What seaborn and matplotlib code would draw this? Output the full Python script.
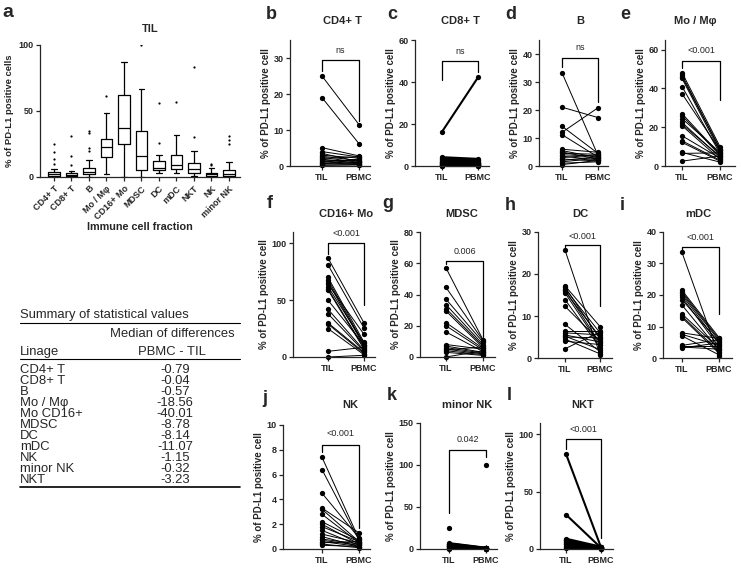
import numpy as np
import pandas as pd
import matplotlib
matplotlib.use("Agg")
import matplotlib.pyplot as plt
import seaborn as sns

W, H = 742, 569
nan = np.nan

# panel a: TIL values per immune cell fraction
cell_types = ["CD4+ T", "CD8+ T", "B", "Mo / Mφ", "CD16+ Mo", "MDSC", "DC", "mDC", "NKT", "NK", "minor NK"]
box_cd4 = [0.0, 0.3, 0.6, 0.8, 0.9, 1.0, 1.2, 1.4, 1.6, 1.8, 1.9, 2.1, 2.3, 2.5, 2.7, 2.9, 3.1, 4.0, 6.0, 10, 14, 19, 25]
box_cd8 = [0.0, 0.2, 0.4, 0.6, 0.8, 1.0, 1.1, 1.2, 1.3, 1.4, 1.5, 1.6, 1.8, 2.0, 2.4, 2.8, 3.2, 4.5, 9, 16, 31]
box_b = [0.0, 0.5, 0.8, 1.0, 1.3, 1.6, 1.9, 2.1, 2.5, 3.0, 3.4, 3.8, 4.0, 4.3, 4.8, 5.3, 5.8, 6.2, 6.5, 7.0, 9.0, 13.0, 20, 22, 33, 35]
box_mo = [2.5, 6, 9, 12, 14, 15, 16, 18, 20, 21, 22, 23, 24, 26, 27, 28, 29, 30, 35, 42, 48.5, 61]
box_cd16 = [0, 5, 12, 20, 24, 25, 27, 30, 33, 36, 39, 42, 48, 55, 62, 64, 66, 72, 80, 87]
box_mdsc = [0, 1.5, 3, 4, 5, 5.5, 7, 9, 12, 14, 16, 18, 22, 27, 32, 35, 38, 45, 55, 67, 100]
box_dc = [3, 3.8, 4.3, 4.7, 5, 5.2, 5.6, 6, 6.3, 6.5, 6.8, 7.5, 9, 10.5, 12, 12.8, 14, 17, 26, 56]
box_mdc = [3, 4, 4.8, 5.2, 5.5, 5.8, 6.5, 7.2, 8, 8.5, 9, 10, 12, 14, 16, 17.5, 21, 26, 32, 57]
box_nkt = [1, 1.5, 2, 2.5, 2.8, 3.2, 3.8, 4.5, 5.2, 5.8, 6.2, 7, 8, 9, 10, 10.8, 13, 16, 20, 30, 83]
box_nk = [0, 0.3, 0.6, 0.8, 1.0, 1.1, 1.3, 1.5, 1.7, 1.9, 2.1, 2.3, 2.6, 2.9, 3.2, 3.5, 4.5, 6.5, 9, 10]
box_minor_nk = [0, 0.2, 0.4, 0.6, 0.8, 0.9, 1.0, 1.2, 1.4, 1.6, 1.8, 1.9, 2.1, 2.4, 2.9, 3.5, 4.2, 4.8, 5.3, 7, 9, 11, 25, 28, 31]
box_values = [box_cd4, box_cd8, box_b, box_mo, box_cd16, box_mdsc, box_dc, box_mdc, box_nkt, box_nk, box_minor_nk]

# panels b-l: paired TIL / PBMC values
til_cd4 = [25.0, 19.0, 5.1, 4.0, 3.5, 3.0, 2.7, 2.4, 2.1, 1.9, 1.6, 1.3, 1.1, 0.9, 0.7, 0.5, 0.3, 0.2]
pbmc_cd4 = [11.5, 6.2, 2.8, 2.5, 1.2, 2.2, 1.5, 1.0, 2.6, 0.8, 1.4, 0.6, 1.8, 0.5, 1.0, 2.0, 0.4, 0.3]
til_cd8 = [16.3, 4.2, 3.8, 3.3, 2.9, 2.5, 2.1, 1.8, 1.5, 1.2, 1.0, 0.8, 0.6, 0.4, 0.3, 0.2, 0.1]
pbmc_cd8 = [42.2, 3.4, 2.5, 2.0, 1.5, 1.2, 2.8, 1.0, 0.8, 1.6, 0.6, 0.5, 1.1, 0.4, 0.3, 0.2, 0.1]
til_b = [33.3, 21.0, 14.2, 12.0, 11.2, 6.0, 5.5, 5.0, 4.5, 4.0, 3.5, 3.0, 2.5, 2.0, 1.5, 1.0, 0.5]
pbmc_b = [3.8, 17.3, 4.5, 20.8, 3.2, 4.9, 3.0, 2.5, 4.2, 3.5, 2.2, 4.0, 1.8, 3.3, 2.8, 1.5, 2.0]
til_mo = [48.2, 47.0, 46.0, 45.2, 41.0, 37.3, 27.0, 26.0, 24.5, 22.5, 21.5, 20.8, 15.6, 13.0, 12.2, 7.0, 6.5, 2.5]
pbmc_mo = [10.0, 8.5, 9.0, 7.5, 6.5, 8.0, 6.0, 5.5, 7.0, 4.5, 5.0, 3.5, 4.0, 3.0, 2.5, 2.0, 6.8, 5.2]
til_cd16 = [87.0, 81.0, 70.0, 68.0, 66.0, 64.0, 62.0, 60.0, 59.0, 50.0, 42.0, 38.0, 30.0, 29.0, 25.0, 5.0, 0.0]
pbmc_cd16 = [30.0, 25.5, 13.0, 11.0, 9.5, 20.0, 12.0, 8.0, 7.0, 10.5, 6.0, 5.0, 4.0, 3.0, 2.0, 8.5, 1.5]
til_mdsc = [57.0, 44.5, 37.0, 33.5, 31.0, 29.5, 22.0, 20.0, 16.0, 8.0, 7.0, 6.0, 5.0, 4.5, 4.0, 3.0, 0.0]
pbmc_mdsc = [11.0, 10.5, 9.5, 8.0, 7.0, 6.0, 5.5, 4.5, 3.5, 5.0, 3.0, 2.5, 2.0, 6.5, 1.5, 1.0, 4.0]
til_dc = [25.7, 17.2, 16.9, 16.5, 16.2, 15.9, 15.5, 13.9, 12.3, 8.0, 6.5, 6.0, 5.5, 5.2, 5.0, 4.5, 4.0, 2.2]
pbmc_dc = [0.8, 7.5, 4.5, 6.0, 3.5, 5.0, 3.0, 2.5, 4.0, 1.5, 6.5, 5.5, 3.8, 2.0, 4.8, 1.0, 3.2, 6.2]
til_mdc = [33.5, 21.5, 21.0, 20.5, 20.0, 19.3, 18.5, 16.8, 14.0, 13.3, 12.8, 8.0, 7.5, 7.0, 4.0, 3.8, 3.5, 3.2]
pbmc_mdc = [0.5, 6.5, 6.0, 5.5, 4.5, 3.5, 5.0, 2.5, 3.0, 2.0, 1.5, 6.2, 4.0, 1.0, 5.8, 3.8, 2.8, 4.8]
til_nk = [7.4, 6.4, 4.5, 3.3, 3.2, 2.8, 2.2, 2.0, 1.8, 1.5, 1.2, 1.0, 0.8, 0.7, 0.6, 0.5, 0.4, 0.3]
pbmc_nk = [0.8, 0.7, 0.9, 1.3, 0.6, 0.5, 0.7, 0.4, 0.6, 0.3, 0.5, 0.2, 0.4, 0.3, 0.2, 0.6, 0.1, 0.2]
til_minor_nk = [25.0, 7.0, 6.5, 5.5, 5.0, 4.5, 4.0, 3.5, 3.0, 2.5, 2.0, 1.5, 1.0, 0.5, nan]
pbmc_minor_nk = [nan, 1.5, 1.2, 1.0, 1.3, 0.8, 1.0, 0.6, 0.9, 0.5, 0.7, 0.4, 0.3, 0.2, 100.0]
til_nkt = [83.0, 30.0, 9.0, 8.0, 7.5, 7.0, 6.0, 5.0, 4.5, 4.0, 3.0, 2.0, 1.0]
pbmc_nkt = [1.5, 1.0, 2.0, 1.2, 0.8, 1.5, 0.5, 1.8, 0.6, 1.0, 0.4, 0.8, 0.3]

p_labels = ["ns", "ns", "ns", "<0.001", "<0.001", "0.006", "<0.001", "<0.001", "<0.001", "0.042", "<0.001"]

# summary table
lineages = ["CD4+ T", "CD8+ T", "B", "Mo / Mφ", "Mo CD16+", "MDSC", "DC", "mDC", "NK", "minor NK", "NKT"]
median_diffs = ["-0.79", "-0.04", "-0.57", "-18.56", "-40.01", "-8.78", "-8.14", "-11.07", "-1.15", "-0.32", "-3.23"]

sns.set_theme(style="ticks")
plt.rcParams["font.family"] = ["Liberation Sans", "DejaVu Sans"]
plt.rcParams.update({
    "axes.linewidth": 0.9, "xtick.major.width": 0.9, "ytick.major.width": 0.9,
    "xtick.major.size": 3, "ytick.major.size": 3,
    "xtick.major.pad": 2, "ytick.major.pad": 1.5,
})

fig = plt.figure(figsize=(W / 100, H / 100), dpi=100)


def px_axes(left, top, right, bottom):
    return fig.add_axes([left / W, 1 - bottom / H, (right - left) / W, (bottom - top) / H])


# overlay in pixel coordinates for letters, titles and the table
ov = fig.add_axes([0, 0, 1, 1])
ov.set_xlim(0, W)
ov.set_ylim(H, 0)
ov.axis("off")

bold = dict(fontweight="bold")
tick_fs = 6.5

# ---- a: box plot
ax = px_axes(40, 45, 240, 177)
box_df = pd.DataFrame({
    "cell": np.repeat(cell_types, [len(v) for v in box_values]),
    "pct": np.concatenate(box_values),
})
sns.boxplot(data=box_df, x="cell", y="pct", order=cell_types, fill=False, color="black",
            width=0.65, linewidth=0.9, whis=1.5, fliersize=1.6,
            flierprops=dict(marker="o", markerfacecolor="black", markeredgewidth=0), ax=ax)
ax.set_xlim(-0.8, 10.63)
ax.set_ylim(0, 100)
ax.set_yticks([0, 50, 100])
ax.set_xticks(range(len(cell_types)))
ax.set_xticklabels(cell_types, rotation=45, ha="right", rotation_mode="anchor", fontsize=tick_fs, **bold)
ax.tick_params(axis="y", labelsize=tick_fs)
for t in ax.get_yticklabels():
    t.set_fontweight("bold")
ax.set_xlabel("Immune cell fraction", fontsize=7.8, **bold)
ax.xaxis.set_label_coords(0.5, -(227 - 177) / 132)
ax.xaxis.label.set_va("center")
ax.set_ylabel("% of PD-L1 positive cells", fontsize=6.8, labelpad=3, **bold)
sns.despine(ax=ax)
ov.text(2, 17, "a", fontsize=14, va="baseline", **bold)
ov.text(150, 32, "TIL", fontsize=8, ha="center", va="baseline", **bold)

# ---- b-l: paired panels
# letter, title, til, pbmc, (spine, til_x, pbmc_x, right, top, bottom), ylim, ticks, bracket(top, left_bottom, right_bottom, text_y), lw, letter_xy, title_xy
panels = [
    ("b", "CD4+ T", til_cd4, pbmc_cd4, (290, 322, 359, 370, 40, 166), 35, [0, 10, 20, 30], (29.4, 26.5, 12.5, 32.0), 0.7, (266, 19), (342, 24)),
    ("c", "CD8+ T", til_cd8, pbmc_cd8, (415, 442, 478, 489, 40, 166), 60, [0, 20, 40, 60], (50, 41, 45, 54.5), 1.5, (387, 19), (460, 24)),
    ("d", "B", til_b, pbmc_b, (539, 562, 598, 608, 40, 166), 45, [0, 10, 20, 30, 40], (38.5, 35.5, 23, 42.3), 0.7, (505, 19), (580, 24)),
    ("e", "Mo / Mφ", til_mo, pbmc_mo, (665, 682, 720, 735, 40, 166), 65, [0, 20, 40, 60], (54.4, 50.5, 34, 59.5), 0.7, (620, 19), (695, 24)),
    ("f", "CD16+ Mo", til_cd16, pbmc_cd16, (293, 328, 364, 375, 232, 357), 110, [0, 50, 100], (100, 91, 46, 109), 0.7, (267, 208), (346, 217)),
    ("g", "MDSC", til_mdsc, pbmc_mdsc, (420, 446, 483, 495, 232, 357), 80, [0, 20, 40, 60, 80], (61.4, 59.5, 13, 67.5), 0.7, (382, 208), (462, 217)),
    ("h", "DC", til_dc, pbmc_dc, (538, 565, 600, 612, 232, 358), 30, [0, 10, 20, 30], (27, 26.4, 12.3, 28.9), 0.7, (505, 210), (580, 217)),
    ("i", "mDC", til_mdc, pbmc_mdc, (663, 682, 719, 732, 232, 358), 40, [0, 10, 20, 30, 40], (35.2, 34.3, 14, 38.4), 0.7, (620, 210), (698, 217)),
    ("j", "NK", til_nk, pbmc_nk, (283, 322, 359, 370, 425, 549), 10, [0, 2, 4, 6, 8, 10], (8.4, 7.8, 1.7, 9.35), 0.7, (262, 403), (350, 408)),
    ("k", "minor NK", til_minor_nk, pbmc_minor_nk, (420, 449, 486, 497, 423, 549), 150, [0, 50, 100, 150], (118, 43, 110, 130), 1.5, (387, 400), (467, 408)),
    ("l", "NKT", til_nkt, pbmc_nkt, (540, 566, 601, 613, 423, 549), 110, [0, 50, 100], (95.6, 87, 9.6, 104), 1.5, (507, 400), (583, 408)),
]

for (letter, title, til, pbmc, geom, ymax, yticks, bracket, lw, letter_xy, title_xy), plabel in zip(panels, p_labels):
    spine, til_x, pbmc_x, right, top, bottom = geom
    ax = px_axes(spine, top, right, bottom)
    n = len(til)
    df = pd.DataFrame({
        "group": ["TIL"] * n + ["PBMC"] * n,
        "value": list(til) + list(pbmc),
        "pair": list(range(n)) * 2,
    })
    sns.lineplot(data=df, x="group", y="value", units="pair", estimator=None, sort=False,
                 color="black", linewidth=lw, marker="o", markersize=3.8, markeredgewidth=0,
                 legend=False, ax=ax)
    for ln in ax.lines:
        ln.set_clip_on(False)
    u = pbmc_x - til_x
    ax.set_xlim(-(til_x - spine) / u, 1 + (right - pbmc_x) / u)
    ax.set_ylim(0, ymax)
    ax.set_yticks(yticks)
    ax.set_xticks([0, 1])
    ax.set_xticklabels(["TIL", "PBMC"], fontsize=tick_fs, **bold)
    ax.tick_params(axis="y", labelsize=tick_fs)
    for t in ax.get_yticklabels():
        t.set_fontweight("bold")
    ax.set_xlabel("")
    ax.set_ylabel("% of PD-L1 positive cell", fontsize=7, labelpad=2, **bold)
    sns.despine(ax=ax)
    btop, lb, rb, ty = bracket
    ax.plot([0, 0, 1, 1], [lb, btop, btop, rb], color="black", linewidth=0.9, clip_on=False)
    ax.text(0.5, ty, plabel, ha="center", va="center", fontsize=6.5)
    ov.text(letter_xy[0], letter_xy[1], letter, fontsize=13, va="baseline", **bold)
    ov.text(title_xy[0], title_xy[1], title, fontsize=8, ha="center", va="baseline", **bold)

# ---- summary table
tab_fs = 9.4
ov.text(20, 318, "Summary of statistical values", fontsize=tab_fs, va="baseline")
ov.plot([20, 240], [323, 323], color="black", linewidth=0.8)
ov.text(172, 337, "Median of differences", fontsize=tab_fs, ha="center", va="baseline")
ov.text(20, 355, "Linage", fontsize=tab_fs, va="baseline")
ov.text(172, 355, "PBMC - TIL", fontsize=tab_fs, ha="center", va="baseline")
ov.plot([20, 240], [359, 359], color="black", linewidth=0.8)
for i, (name, val) in enumerate(zip(lineages, median_diffs)):
    y = 373 + 11 * i
    ov.text(20, y, name, fontsize=tab_fs, va="baseline")
    ov.text(175, y, val, fontsize=tab_fs, ha="center", va="baseline")
ov.plot([20, 240], [487, 487], color="black", linewidth=1.2)

fig.savefig("out.png", dpi=100)
